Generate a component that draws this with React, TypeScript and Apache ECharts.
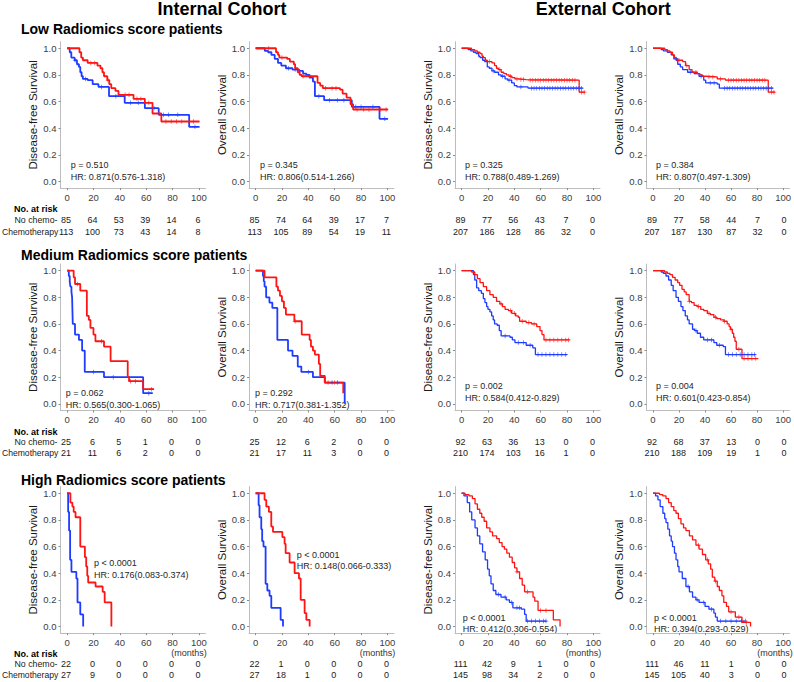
import React, { useEffect, useRef } from "react";
import * as echarts from "echarts";

const FONT = '"Liberation Sans", Arial, Helvetica, sans-serif';
const RED = "#ff1414";
const BLUE = "#1e3cff";

const xTicks = [0, 20, 40, 60, 80, 100];
const yTicks = [0, 0.2, 0.4, 0.6, 0.8, 1.0];

const cohortTitles = ["Internal Cohort", "External Cohort"];
const rowTitles = ["Low Radiomics score patients", "Medium Radiomics score patients", "High Radiomics score patients"];
const groupLabels = ["No chemo-", "Chemotherapy"];

// ---------- Low radiomics ----------
const lowIntDfsNoChemo = [[0,1],[2,0.97],[3.2,0.93],[5.7,0.91],[7.5,0.88],[9,0.86],[10,0.82],[11,0.79],[12,0.77],[15.6,0.76],[19.4,0.73],[23.8,0.71],[31.8,0.64],[43.7,0.59],[59,0.55],[69.5,0.5],[92.6,0.41],[100.5,0.41]];
const lowIntDfsChemo = [[0,1],[9.4,0.97],[10.7,0.93],[12,0.91],[15.6,0.89],[23,0.87],[25.3,0.85],[26.8,0.82],[28,0.79],[30.5,0.76],[32,0.73],[33.5,0.7],[36.7,0.68],[39,0.65],[50.4,0.62],[59,0.59],[64.8,0.51],[71.5,0.45],[100.5,0.45]];
const lowIntOsNoChemo = [[0,1],[7,0.98],[9.5,0.97],[12,0.95],[14.5,0.92],[17,0.89],[19.5,0.87],[23,0.85],[28,0.84],[33,0.83],[36,0.81],[38.5,0.8],[41,0.78],[43.5,0.75],[45,0.64],[52,0.61],[73,0.56],[94,0.47],[100.5,0.47]];
const lowIntOsChemo = [[0,1],[15.5,0.97],[17,0.95],[18,0.93],[24,0.92],[26,0.9],[29,0.88],[30,0.85],[32,0.82],[33.5,0.8],[35,0.79],[47,0.74],[49,0.72],[51,0.7],[64,0.69],[66,0.66],[69,0.63],[72,0.58],[74,0.54],[100.5,0.54]];
const lowExtDfsNoChemo = [[0,1],[5,0.99],[7,0.98],[9,0.97],[11,0.96],[13,0.94],[14,0.93],[16,0.91],[17.5,0.9],[19.5,0.86],[21,0.85],[23,0.83],[25,0.82],[28,0.8],[30,0.79],[33,0.77],[35,0.76],[38,0.74],[40,0.72],[42,0.71],[50.4,0.7],[92,0.7]];
const lowExtDfsChemo = [[0,1],[7.5,0.99],[10,0.98],[12,0.97],[14,0.96],[15.5,0.94],[16.5,0.93],[18,0.91],[19.5,0.9],[23,0.89],[25,0.87],[26.5,0.85],[28,0.84],[30,0.82],[32,0.81],[34,0.8],[36,0.79],[38,0.78],[40.5,0.77],[44,0.765],[49,0.76],[89.2,0.67],[93.7,0.67]];
const lowExtOsNoChemo = [[0,1],[6.3,0.99],[8,0.98],[11,0.97],[14,0.95],[16,0.92],[19,0.88],[21,0.86],[22.8,0.84],[26.6,0.82],[31.6,0.81],[35.4,0.79],[39,0.76],[40.5,0.74],[49.4,0.73],[51,0.7],[92.4,0.7]];
const lowExtOsChemo = [[0,1],[9,0.99],[11,0.98],[13,0.97],[15,0.95],[16.5,0.93],[17.7,0.91],[22.8,0.9],[25,0.87],[27.8,0.84],[30,0.82],[34,0.81],[36,0.8],[38,0.79],[40.5,0.785],[49.4,0.77],[55.7,0.76],[88.6,0.67],[93.7,0.67]];

// ---------- Medium radiomics ----------
const medIntDfsNoChemo = [[0,1],[1.3,0.96],[2,0.92],[2.5,0.88],[3.3,0.84],[3.8,0.8],[4.3,0.6],[6,0.52],[9,0.48],[11.4,0.4],[13.4,0.24],[28,0.2],[57.7,0.08],[65,0.08]];
const medIntDfsChemo = [[0,1],[5,0.95],[6,0.9],[10,0.85],[15,0.66],[16.5,0.63],[17.7,0.57],[20,0.52],[21.5,0.47],[28,0.43],[33,0.32],[46,0.2],[47,0.17],[57.7,0.11],[66,0.11]];
const medIntOsNoChemo = [[0,1],[5.6,0.96],[6.2,0.92],[6.8,0.88],[8,0.8],[10.5,0.76],[12.7,0.72],[16.5,0.48],[24.6,0.4],[28,0.36],[32,0.28],[34.7,0.24],[43.5,0.2],[52.5,0.16],[67.6,0]];
const medIntOsChemo = [[0,1],[6.8,0.95],[15.8,0.88],[17,0.85],[18.5,0.81],[20,0.77],[21.5,0.72],[23,0.67],[29.4,0.62],[35,0.52],[41,0.48],[42,0.43],[43.5,0.4],[45,0.37],[48,0.3],[49,0.21],[52.5,0.16],[66.5,0.08]];
const medExtDfsNoChemo = [[0,1],[9,0.97],[10,0.93],[11.4,0.87],[13,0.85],[15,0.83],[16.5,0.79],[17.7,0.76],[19,0.73],[20,0.71],[21.5,0.69],[22.8,0.66],[24,0.63],[25,0.6],[27,0.59],[28.6,0.55],[30,0.51],[36.7,0.5],[38.5,0.48],[40.5,0.46],[49,0.44],[54,0.42],[56,0.37],[80,0.37]];
const medExtDfsChemo = [[0,1],[7.6,0.99],[10,0.97],[12,0.94],[14,0.91],[16.5,0.88],[19,0.85],[21.5,0.82],[24,0.8],[26.5,0.77],[29,0.75],[31,0.73],[33,0.71],[35.5,0.7],[38,0.68],[41,0.66],[43,0.65],[44,0.62],[49,0.61],[53,0.6],[57,0.58],[59.5,0.55],[61,0.52],[62.5,0.48],[82,0.48]];
const medExtOsNoChemo = [[0,1],[6.3,0.99],[8,0.98],[10,0.96],[12,0.93],[14,0.89],[15.5,0.85],[17.7,0.8],[19.5,0.77],[21.5,0.73],[23,0.7],[24.8,0.66],[26.5,0.63],[27.8,0.6],[30.4,0.56],[32,0.55],[34,0.53],[36.5,0.5],[39,0.48],[46.8,0.46],[49,0.44],[54,0.43],[55.7,0.37],[79,0.37]];
const medExtOsChemo = [[0,1],[8.9,0.99],[11,0.98],[13,0.97],[15,0.95],[17,0.93],[19,0.91],[20.5,0.89],[22.3,0.86],[24,0.84],[25.5,0.82],[27.8,0.77],[29.5,0.76],[31.6,0.74],[34,0.73],[36.7,0.71],[39,0.7],[41.8,0.68],[44,0.67],[46.8,0.65],[49,0.64],[52,0.63],[54.5,0.62],[57,0.6],[58.5,0.58],[59.5,0.56],[61,0.53],[62,0.5],[63,0.47],[64,0.41],[68.4,0.34],[81,0.34]];

// ---------- High radiomics ----------
const highIntDfsNoChemo = [[0,1],[0.8,0.86],[1.5,0.72],[2.3,0.5],[3.3,0.41],[7,0.36],[7.9,0.18],[10,0.09],[12.2,0]];
const highIntDfsChemo = [[0,1],[2.5,0.93],[4,0.9],[5,0.86],[6.4,0.82],[10,0.6],[13.5,0.52],[14.5,0.45],[15.3,0.38],[16,0.33],[21.6,0.3],[27,0.26],[28.5,0.18],[33.6,0]];
const highIntOsNoChemo = [[0,1],[2.3,0.91],[3,0.82],[4.3,0.73],[5,0.64],[6,0.6],[7.6,0.32],[8.9,0.27],[10.6,0.23],[11.9,0.14],[19,0.05],[20.8,0]];
const highIntOsChemo = [[0,1],[6.8,0.95],[8.1,0.9],[10.1,0.86],[11.9,0.75],[13.2,0.71],[20.3,0.67],[22,0.62],[22.8,0.55],[25.8,0.48],[29.6,0.4],[32.9,0.36],[34.2,0.2],[37.2,0.1],[38.5,0.05],[41,0]];
const highExtDfsNoChemo = [[0,1],[1.8,0.98],[4.3,0.93],[6.1,0.86],[7.7,0.8],[10.2,0.74],[12,0.68],[13.8,0.62],[15.9,0.56],[17.9,0.5],[19.7,0.43],[21,0.38],[22.3,0.32],[24,0.27],[26,0.24],[29.9,0.22],[33.8,0.2],[36.3,0.18],[38.9,0.14],[45.3,0.13],[47.8,0.09],[49,0.04],[64.5,0.04]];
const highExtDfsChemo = [[0,1],[2.6,0.99],[5.6,0.98],[8.2,0.96],[10.2,0.92],[12,0.88],[13.8,0.85],[15.3,0.82],[17.1,0.79],[19,0.74],[21.5,0.71],[23.5,0.68],[26.6,0.66],[28.6,0.63],[30.7,0.6],[32.5,0.58],[34.3,0.55],[36.3,0.52],[38.4,0.48],[40.2,0.44],[42,0.41],[44,0.36],[46,0.31],[47.8,0.26],[54.2,0.22],[55.5,0.19],[58,0.12],[69.6,0.05],[74.7,0]];
const highExtOsNoChemo = [[0,1],[2,0.98],[3.8,0.95],[5.5,0.9],[7.6,0.85],[9,0.81],[10,0.78],[11.4,0.73],[12.7,0.68],[14,0.64],[15,0.6],[16.5,0.55],[17.7,0.5],[19,0.45],[20,0.41],[22.5,0.36],[25.3,0.3],[28,0.26],[30.4,0.22],[33,0.2],[35.4,0.18],[40,0.15],[43,0.13],[46.8,0.1],[48,0.07],[49.4,0.04],[71,0.04]];
const highExtOsChemo = [[0,1],[5,0.99],[7.5,0.98],[10,0.96],[12,0.93],[14,0.9],[16,0.87],[17.7,0.85],[19.5,0.81],[21.5,0.77],[23.5,0.74],[25.3,0.72],[28,0.68],[30.4,0.65],[33,0.61],[35.4,0.58],[38,0.54],[40.5,0.5],[42.5,0.47],[44.3,0.43],[45.6,0.37],[47.5,0.34],[49.4,0.3],[51,0.27],[53,0.23],[54.4,0.18],[56.5,0.15],[58.2,0.11],[63.3,0.07],[68.4,0.03],[75,0]];

// ---------- censoring times ----------
const censLowIntDfsNo = [6, 14, 26, 37, 48, 54, 66, 73, 77, 84, 97];
const censLowIntDfsCh = [18, 21, 31, 44, 47, 53, 56, 62, 75, 79, 83, 87, 96];
const censLowIntOsNo = [25, 30, 48, 56, 62, 67, 76, 80, 89, 98];
const censLowIntOsCh = [10, 20, 36, 41, 53, 58, 61, 77, 82, 86, 95, 99];
const censLowExtDfsNo = [24, 31, 36, 45, 53, 55, 57, 59, 61, 63, 65, 67, 69, 71, 73, 75, 77, 79, 81, 83, 85, 87, 89, 91];
const censLowExtDfsCh = [21, 29, 37, 42, 45, 47, 52, 54, 56, 58, 60, 62, 64, 66, 68, 70, 72, 74, 76, 78, 80, 82, 84, 86, 91, 93];
const censLowExtOsNo = [18, 29, 37, 44, 47, 55, 57, 59, 61, 63, 65, 67, 69, 71, 73, 75, 77, 79, 81, 83, 85, 87, 89, 91];
const censLowExtOsCh = [20, 26, 33, 43, 46, 52, 58, 60, 62, 64, 66, 68, 70, 72, 74, 76, 78, 80, 82, 84, 86, 91, 93];
const censMedIntDfsNo = [20, 35, 62];
const censMedIntDfsCh = [8, 26, 48, 52, 64];
const censMedIntOsNo = [40, 58, 62];
const censMedIntOsCh = [30, 55, 60];
const censMedExtDfsNo = [33, 43, 47, 52, 58, 61, 64, 67, 70, 73, 76, 79];
const censMedExtDfsCh = [30, 37, 40, 46, 51, 55, 64, 67, 70, 73, 76, 79, 81];
const censMedExtOsNo = [33, 42, 45, 51, 58, 61, 64, 67, 70, 73, 76, 78];
const censMedExtOsCh = [28, 35, 43, 48, 55, 60, 66, 70, 73, 76, 79];
const censHighExtDfsNo = [28, 33, 38, 42, 44, 50, 53, 56, 59, 62, 64];
const censHighExtDfsCh = [42, 50, 60, 64];
const censHighExtOsNo = [27, 34, 39, 45, 52, 56, 60, 64, 68, 71];
const censHighExtOsCh = [35, 42, 48, 60, 66, 72];

// ---------- numbers at risk ----------
const riskLowIntDfsNo = [85, 64, 53, 39, 14, 6];
const riskLowIntDfsCh = [113, 100, 73, 43, 14, 8];
const riskLowIntOsNo = [85, 74, 64, 39, 17, 7];
const riskLowIntOsCh = [113, 105, 89, 54, 19, 11];
const riskLowExtDfsNo = [89, 77, 56, 43, 7, 0];
const riskLowExtDfsCh = [207, 186, 128, 86, 32, 0];
const riskLowExtOsNo = [89, 77, 58, 44, 7, 0];
const riskLowExtOsCh = [207, 187, 130, 87, 32, 0];
const riskMedIntDfsNo = [25, 6, 5, 1, 0, 0];
const riskMedIntDfsCh = [21, 11, 6, 2, 0, 0];
const riskMedIntOsNo = [25, 12, 6, 2, 0, 0];
const riskMedIntOsCh = [21, 17, 11, 3, 0, 0];
const riskMedExtDfsNo = [92, 63, 36, 13, 0, 0];
const riskMedExtDfsCh = [210, 174, 103, 16, 1, 0];
const riskMedExtOsNo = [92, 68, 37, 13, 0, 0];
const riskMedExtOsCh = [210, 188, 109, 19, 1, 0];
const riskHighIntDfsNo = [22, 0, 0, 0, 0, 0];
const riskHighIntDfsCh = [27, 9, 0, 0, 0, 0];
const riskHighIntOsNo = [22, 1, 0, 0, 0, 0];
const riskHighIntOsCh = [27, 18, 1, 0, 0, 0];
const riskHighExtDfsNo = [111, 42, 9, 1, 0, 0];
const riskHighExtDfsCh = [145, 98, 34, 2, 0, 0];
const riskHighExtOsNo = [111, 46, 11, 1, 0, 0];
const riskHighExtOsCh = [145, 105, 40, 3, 0, 0];

// ---------- statistics text ----------
const pTexts = [
  ["p = 0.510", "HR: 0.871(0.576-1.318)"], ["p = 0.345", "HR: 0.806(0.514-1.266)"], ["p = 0.325", "HR: 0.788(0.489-1.269)"], ["p = 0.384", "HR: 0.807(0.497-1.309)"],
  ["p = 0.062", "HR: 0.565(0.300-1.065)"], ["p = 0.292", "HR: 0.717(0.381-1.352)"], ["p = 0.002", "HR: 0.584(0.412-0.829)"], ["p = 0.004", "HR: 0.601(0.423-0.854)"],
  ["p < 0.0001", "HR: 0.176(0.083-0.374)"], ["p < 0.0001", "HR: 0.148(0.066-0.333)"], ["p < 0.0001", "HR: 0.412(0.306-0.554)"], ["p < 0.0001", "HR: 0.394(0.293-0.529)"],
];

// ---------- layout ----------
const COL_LEFT = [60.5, 249, 455, 646.5];
const ROW_TOP = [41.6, 264, 486.6];
const GW = 145;
const GH = 146.5;
const X_MIN = -5, X_MAX = 105, Y_MIN = -0.05, Y_MAX = 1.05;
const P_POS = [
  [70.7, 165, 176.7], [260, 165, 176.7], [465, 165, 176.7], [656, 165, 176.7],
  [65.7, 393.3, 405], [255, 393.3, 405], [465, 386, 398.3], [656, 386, 398.3],
  [94, 563.3, 575], [296.7, 555, 566], [462.7, 618.3, 629.3], [654, 618.3, 629.3],
];
const RISK_Y = [[209.3, 220, 231.7], [431.7, 441.7, 453.3], [654, 664, 675]];

const panels = [
  { no: lowIntDfsNoChemo, ch: lowIntDfsChemo, cNo: censLowIntDfsNo, cCh: censLowIntDfsCh, rNo: riskLowIntDfsNo, rCh: riskLowIntDfsCh, dfs: true },
  { no: lowIntOsNoChemo, ch: lowIntOsChemo, cNo: censLowIntOsNo, cCh: censLowIntOsCh, rNo: riskLowIntOsNo, rCh: riskLowIntOsCh, dfs: false },
  { no: lowExtDfsNoChemo, ch: lowExtDfsChemo, cNo: censLowExtDfsNo, cCh: censLowExtDfsCh, rNo: riskLowExtDfsNo, rCh: riskLowExtDfsCh, dfs: true },
  { no: lowExtOsNoChemo, ch: lowExtOsChemo, cNo: censLowExtOsNo, cCh: censLowExtOsCh, rNo: riskLowExtOsNo, rCh: riskLowExtOsCh, dfs: false },
  { no: medIntDfsNoChemo, ch: medIntDfsChemo, cNo: censMedIntDfsNo, cCh: censMedIntDfsCh, rNo: riskMedIntDfsNo, rCh: riskMedIntDfsCh, dfs: true },
  { no: medIntOsNoChemo, ch: medIntOsChemo, cNo: censMedIntOsNo, cCh: censMedIntOsCh, rNo: riskMedIntOsNo, rCh: riskMedIntOsCh, dfs: false },
  { no: medExtDfsNoChemo, ch: medExtDfsChemo, cNo: censMedExtDfsNo, cCh: censMedExtDfsCh, rNo: riskMedExtDfsNo, rCh: riskMedExtDfsCh, dfs: true },
  { no: medExtOsNoChemo, ch: medExtOsChemo, cNo: censMedExtOsNo, cCh: censMedExtOsCh, rNo: riskMedExtOsNo, rCh: riskMedExtOsCh, dfs: false },
  { no: highIntDfsNoChemo, ch: highIntDfsChemo, cNo: [], cCh: [], rNo: riskHighIntDfsNo, rCh: riskHighIntDfsCh, dfs: true },
  { no: highIntOsNoChemo, ch: highIntOsChemo, cNo: [], cCh: [], rNo: riskHighIntOsNo, rCh: riskHighIntOsCh, dfs: false },
  { no: highExtDfsNoChemo, ch: highExtDfsChemo, cNo: censHighExtDfsNo, cCh: censHighExtDfsCh, rNo: riskHighExtDfsNo, rCh: riskHighExtDfsCh, dfs: true },
  { no: highExtOsNoChemo, ch: highExtOsChemo, cNo: censHighExtOsNo, cCh: censHighExtOsCh, rNo: riskHighExtOsNo, rCh: riskHighExtOsCh, dfs: false },
];

const stepValue = (curve: number[][], t: number) => {
  let s = curve[0][1];
  for (const p of curve) if (p[0] <= t) s = p[1];
  return s;
};

const PLUS = "path://M4.2,0H5.8V4.2H10V5.8H5.8V10H4.2V5.8H0V4.2H4.2Z";

function txt(x: number, y: number, text: string, size: number, opts: any = {}) {
  const align = opts.align || "left";
  const weight = opts.bold ? "bold" : "normal";
  return {
    type: "text",
    x,
    y,
    silent: true,
    style: {
      text,
      font: `${weight} ${size}px ${FONT}`,
      fill: opts.color || "#1a1a1a",
      textAlign: align,
      textVerticalAlign: "middle",
      align,
      verticalAlign: "middle",
    },
  };
}

export default function App() {
  const ref = useRef<HTMLDivElement>(null);
  useEffect(() => {
    if (!ref.current) return;
    const chart = echarts.init(ref.current, undefined, { renderer: "svg" });
    const grid: any[] = [];
    const xAxis: any[] = [];
    const yAxis: any[] = [];
    const series: any[] = [];
    const graphic: any[] = [];

    panels.forEach((p, i) => {
      const row = Math.floor(i / 4);
      const col = i % 4;
      const internal = col < 2;
      const lw = internal ? 1.8 : 1.3;
      grid.push({ left: COL_LEFT[col], top: ROW_TOP[row], width: GW, height: GH, containLabel: false });
      xAxis.push({
        type: "value", gridIndex: i, min: X_MIN, max: X_MAX,
        axisLine: { onZero: false, lineStyle: { color: "#bdbdbd", width: 1 } },
        axisTick: { show: true, length: 2, customValues: xTicks, lineStyle: { color: "#8a8a8a" } },
        splitLine: { show: false },
        axisLabel: { customValues: xTicks, margin: 4, fontSize: 9.5, color: "#3d3d3d", fontFamily: FONT },
      });
      yAxis.push({
        type: "value", gridIndex: i, min: Y_MIN, max: Y_MAX,
        name: p.dfs ? "Disease-free Survival" : "Overall Survival",
        nameLocation: "middle", nameGap: 16, nameRotate: 90,
        nameTextStyle: { fontSize: 11.5, color: "#1a1a1a", fontFamily: FONT },
        axisLine: { onZero: false, lineStyle: { color: "#bdbdbd", width: 1 } },
        axisTick: { show: true, length: 2, customValues: yTicks, lineStyle: { color: "#8a8a8a" } },
        splitLine: { show: false },
        axisLabel: { customValues: yTicks, margin: 4, fontSize: 9.5, color: "#3d3d3d", fontFamily: FONT, formatter: (v: number) => v.toFixed(1) },
      });
      const groups = [
        { curve: p.no, cens: p.cNo, color: BLUE },
        { curve: p.ch, cens: p.cCh, color: RED },
      ];
      groups.forEach((g) => {
        series.push({
          type: "line", xAxisIndex: i, yAxisIndex: i, data: g.curve, step: "end",
          symbol: "none", showSymbol: false, silent: true,
          lineStyle: { color: g.color, width: lw }, z: 3,
        });
        if (g.cens.length) {
          series.push({
            type: "scatter", xAxisIndex: i, yAxisIndex: i, silent: true,
            data: g.cens.map((t) => [t, stepValue(g.curve, t)]),
            symbol: PLUS, symbolSize: 4.5, itemStyle: { color: g.color }, z: 4,
          });
        }
      });

      // p / HR text
      const pp = P_POS[i];
      graphic.push(txt(pp[0], pp[1], pTexts[i][0], 9, { color: "#262626" }));
      graphic.push(txt(pp[0], pp[2], pTexts[i][1], 9, { color: "#262626" }));

      // risk table
      const ry = RISK_Y[row];
      xTicks.forEach((t, k) => {
        const px = COL_LEFT[col] + ((t - X_MIN) / (X_MAX - X_MIN)) * GW - 1;
        graphic.push(txt(px, ry[1], String(p.rNo[k]), 9, { align: "center" }));
        graphic.push(txt(px, ry[2], String(p.rCh[k]), 9, { align: "center" }));
      });
      if (row === 2) {
        const px100 = COL_LEFT[col] + ((100 - X_MIN) / (X_MAX - X_MIN)) * GW;
        graphic.push(txt(px100 - 10, 652.7, "(months)", 9, { align: "center", color: "#333" }));
      }
    });

    // titles
    graphic.push(txt(222, 9, cohortTitles[0], 18, { bold: true, align: "center", color: "#000" }));
    graphic.push(txt(603.3, 9, cohortTitles[1], 18, { bold: true, align: "center", color: "#000" }));
    const rowTitleY = [29.3, 255, 480];
    rowTitles.forEach((t, r) => {
      graphic.push(txt(21, rowTitleY[r], t, 14, { bold: true, color: "#000" }));
      graphic.push(txt(14, RISK_Y[r][0], "No. at risk", 9, { bold: true, color: "#000" }));
      graphic.push(txt(57.5, RISK_Y[r][1], groupLabels[0], 8.8, { align: "right" }));
      graphic.push(txt(58.3, RISK_Y[r][2], groupLabels[1], 8.6, { align: "right" }));
    });

    chart.setOption({
      animation: false,
      backgroundColor: "#fff",
      textStyle: { fontFamily: FONT },
      grid, xAxis, yAxis, series, graphic,
    });
    return () => chart.dispose();
  }, []);
  return <div ref={ref} style={{ position: "absolute", left: 0, top: 0, width: 794, height: 682 }} />;
}
